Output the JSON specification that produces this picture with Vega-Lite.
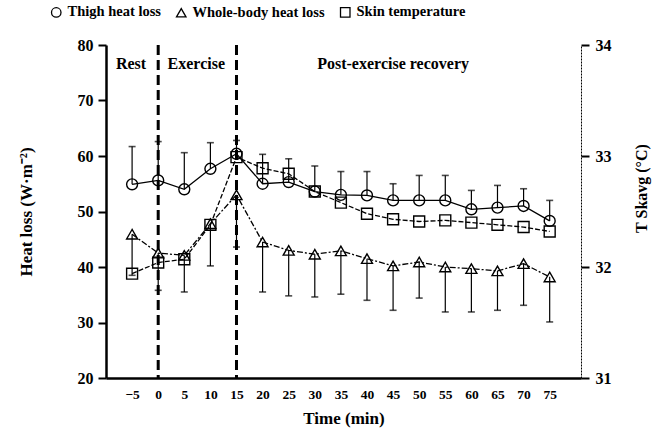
{
  "$schema": "https://vega.github.io/schema/vega-lite/v6.json",
  "width": 475,
  "height": 333,
  "autosize": {"type": "none"},
  "padding": {"left": 106, "top": 45, "right": 89, "bottom": 62},
  "background": "white",
  "config": {
    "font": "Liberation Serif",
    "view": {"stroke": null},
    "axis": {"grid": false, "labelFont": "Liberation Serif", "labelFontWeight": "bold", "labelColor": "black", "titleFont": "Liberation Serif", "titleFontWeight": "bold", "titleColor": "black", "domainColor": "black", "tickColor": "black"},
    "axisX": {"labelOverlap": false, "labelBound": false, "labelFlush": false},
    "legend": {"orient": "none", "direction": "horizontal", "legendX": -57, "legendY": -40, "padding": 0}
  },
  "datasets": {
    "hl": [
      {"t": -5, "series": "Thigh heat loss", "value": 54.9, "err": 61.7},
      {"t": 0, "series": "Thigh heat loss", "value": 55.6, "err": 62.6},
      {"t": 5, "series": "Thigh heat loss", "value": 54.0, "err": 60.6},
      {"t": 10, "series": "Thigh heat loss", "value": 57.7, "err": 62.4},
      {"t": 15, "series": "Thigh heat loss", "value": 60.4, "err": 62.8},
      {"t": 20, "series": "Thigh heat loss", "value": 55.0, "err": 60.3},
      {"t": 25, "series": "Thigh heat loss", "value": 55.3, "err": 59.5},
      {"t": 30, "series": "Thigh heat loss", "value": 53.6, "err": 58.2},
      {"t": 35, "series": "Thigh heat loss", "value": 53.0, "err": 57.2},
      {"t": 40, "series": "Thigh heat loss", "value": 52.9, "err": 57.2},
      {"t": 45, "series": "Thigh heat loss", "value": 52.0, "err": 55.0},
      {"t": 50, "series": "Thigh heat loss", "value": 52.0, "err": 56.5},
      {"t": 55, "series": "Thigh heat loss", "value": 52.0, "err": 56.5},
      {"t": 60, "series": "Thigh heat loss", "value": 50.4, "err": 53.8},
      {"t": 65, "series": "Thigh heat loss", "value": 50.7, "err": 54.7},
      {"t": 70, "series": "Thigh heat loss", "value": 51.0, "err": 54.1},
      {"t": 75, "series": "Thigh heat loss", "value": 48.3, "err": 52.0},
      {"t": -5, "series": "Whole-body heat loss", "value": 45.9, "err": 38.5},
      {"t": 0, "series": "Whole-body heat loss", "value": 42.5, "err": 35.8},
      {"t": 5, "series": "Whole-body heat loss", "value": 42.1, "err": 35.5},
      {"t": 10, "series": "Whole-body heat loss", "value": 47.8, "err": 40.2},
      {"t": 15, "series": "Whole-body heat loss", "value": 53.0, "err": 43.6},
      {"t": 20, "series": "Whole-body heat loss", "value": 44.5, "err": 35.5},
      {"t": 25, "series": "Whole-body heat loss", "value": 43.0, "err": 34.8},
      {"t": 30, "series": "Whole-body heat loss", "value": 42.3, "err": 34.6},
      {"t": 35, "series": "Whole-body heat loss", "value": 42.9, "err": 35.1},
      {"t": 40, "series": "Whole-body heat loss", "value": 41.5, "err": 34.0},
      {"t": 45, "series": "Whole-body heat loss", "value": 40.2, "err": 32.2},
      {"t": 50, "series": "Whole-body heat loss", "value": 40.9, "err": 34.4},
      {"t": 55, "series": "Whole-body heat loss", "value": 40.0, "err": 31.9},
      {"t": 60, "series": "Whole-body heat loss", "value": 39.7, "err": 31.9},
      {"t": 65, "series": "Whole-body heat loss", "value": 39.3, "err": 32.2},
      {"t": 70, "series": "Whole-body heat loss", "value": 40.6, "err": 33.1},
      {"t": 75, "series": "Whole-body heat loss", "value": 38.2, "err": 30.1}
    ],
    "skin": [
      {"t": -5, "series": "Skin temperature", "value": 31.94},
      {"t": 0, "series": "Skin temperature", "value": 32.04},
      {"t": 5, "series": "Skin temperature", "value": 32.07},
      {"t": 10, "series": "Skin temperature", "value": 32.38},
      {"t": 15, "series": "Skin temperature", "value": 32.99},
      {"t": 20, "series": "Skin temperature", "value": 32.89},
      {"t": 25, "series": "Skin temperature", "value": 32.84},
      {"t": 30, "series": "Skin temperature", "value": 32.68},
      {"t": 35, "series": "Skin temperature", "value": 32.58},
      {"t": 40, "series": "Skin temperature", "value": 32.48},
      {"t": 45, "series": "Skin temperature", "value": 32.43},
      {"t": 50, "series": "Skin temperature", "value": 32.41},
      {"t": 55, "series": "Skin temperature", "value": 32.42},
      {"t": 60, "series": "Skin temperature", "value": 32.40},
      {"t": 65, "series": "Skin temperature", "value": 32.38},
      {"t": 70, "series": "Skin temperature", "value": 32.36},
      {"t": 75, "series": "Skin temperature", "value": 32.32}
    ],
    "phase": [{"t": 0}, {"t": 15}],
    "labels": [
      {"t": -5.2, "value": 76.6, "label": "Rest"},
      {"t": 7.3, "value": 76.6, "label": "Exercise"},
      {"t": 45, "value": 76.6, "label": "Post-exercise recovery"}
    ]
  },
  "layer": [
    {
      "layer": [
        {
          "data": {"name": "phase"},
          "mark": {"type": "rule", "color": "black", "strokeWidth": 3, "strokeDash": [10, 5]},
          "encoding": {
            "x": {"field": "t", "type": "quantitative", "scale": {"domain": [-10, 81], "nice": false, "zero": false}, "title": "Time (min)", "axis": {"values": [-5, 0, 5, 10, 15, 20, 25, 30, 35, 40, 45, 50, 55, 60, 65, 70, 75], "tickCount": 40, "ticks": false, "domainWidth": 2.5, "labelFontSize": 13.5, "labelPadding": 9, "labelFlush": false, "labelOverlap": false, "labelBound": false, "titleFontSize": 17, "titlePadding": 10}}
          }
        },
        {
          "data": {"name": "hl"},
          "transform": [{"filter": "datum.series === 'Thigh heat loss'"}],
          "mark": {"type": "line", "color": "black", "strokeWidth": 1.3},
          "encoding": {
            "x": {"field": "t", "type": "quantitative", "title": "Time (min)"},
            "y": {"field": "value", "type": "quantitative", "scale": {"domain": [20, 80], "nice": false, "zero": false}, "title": "Heat loss (W·m⁻²)", "axis": {"values": [20, 30, 40, 50, 60, 70, 80], "tickCount": 20, "domainWidth": 2.5, "tickWidth": 2, "tickSize": 8, "labelFontSize": 16, "labelPadding": 5, "titleFontSize": 17, "titlePadding": 42}}
          }
        },
        {
          "data": {"name": "hl"},
          "transform": [{"filter": "datum.series === 'Whole-body heat loss'"}],
          "mark": {"type": "line", "color": "black", "strokeWidth": 1.3, "strokeDash": [6, 2, 2, 2]},
          "encoding": {
            "x": {"field": "t", "type": "quantitative", "title": "Time (min)"},
            "y": {"field": "value", "type": "quantitative", "title": "Heat loss (W·m⁻²)"}
          }
        },
        {
          "data": {"name": "hl"},
          "mark": {"type": "rule", "color": "black", "strokeWidth": 1.2},
          "encoding": {
            "x": {"field": "t", "type": "quantitative", "title": "Time (min)"},
            "y": {"field": "value", "type": "quantitative", "title": "Heat loss (W·m⁻²)"},
            "y2": {"field": "err"}
          }
        },
        {
          "data": {"name": "hl"},
          "mark": {"type": "tick", "color": "black", "orient": "horizontal", "size": 7, "thickness": 1.6},
          "encoding": {
            "x": {"field": "t", "type": "quantitative", "title": "Time (min)"},
            "y": {"field": "err", "type": "quantitative", "title": "Heat loss (W·m⁻²)"}
          }
        },
        {
          "data": {"name": "hl"},
          "mark": {"type": "point", "filled": false, "stroke": "black", "strokeWidth": 1.4, "size": 120, "opacity": 1},
          "encoding": {
            "x": {"field": "t", "type": "quantitative", "title": "Time (min)"},
            "y": {"field": "value", "type": "quantitative", "title": "Heat loss (W·m⁻²)"},
            "shape": {"field": "series", "type": "nominal", "scale": {"domain": ["Thigh heat loss", "Whole-body heat loss", "Skin temperature"], "range": ["circle", "triangle-up", "square"]}, "legend": {"orient": "none", "direction": "horizontal", "legendX": -57, "legendY": -40, "title": null, "labelFont": "Liberation Serif", "labelFontSize": 14.5, "labelFontWeight": "bold", "labelColor": "black", "symbolStrokeColor": "black", "symbolFillColor": "transparent", "symbolSize": 90, "symbolStrokeWidth": 1.3, "columnPadding": 12, "labelOffset": 4}}
          }
        },
        {
          "data": {"name": "labels"},
          "mark": {"type": "text", "font": "Liberation Serif", "fontWeight": "bold", "fontSize": 16, "align": "center", "baseline": "middle", "color": "black"},
          "encoding": {
            "x": {"field": "t", "type": "quantitative", "title": "Time (min)"},
            "y": {"field": "value", "type": "quantitative", "title": "Heat loss (W·m⁻²)"},
            "text": {"field": "label"}
          }
        }
      ]
    },
    {
      "data": {"name": "skin"},
      "layer": [
        {
          "mark": {"type": "line", "color": "black", "strokeWidth": 1.3, "strokeDash": [5, 2]},
          "encoding": {
            "x": {"field": "t", "type": "quantitative", "title": "Time (min)"},
            "y": {"field": "value", "type": "quantitative", "scale": {"domain": [31, 34], "nice": false, "zero": false}, "title": "T Skavg (°C)", "axis": {"orient": "right", "values": [31, 32, 33, 34], "tickCount": 10, "format": "d", "domainWidth": 1, "domainDash": [2, 1], "tickSize": 8, "tickWidth": 2, "labelFontSize": 16, "labelPadding": 6, "titleFontSize": 16, "titleAngle": 270, "titleX": 60, "titleY": 143, "titleBaseline": "middle", "titleAlign": "center"}}
          }
        },
        {
          "mark": {"type": "point", "filled": false, "stroke": "black", "strokeWidth": 1.4, "size": 120, "opacity": 1},
          "encoding": {
            "x": {"field": "t", "type": "quantitative", "title": "Time (min)"},
            "y": {"field": "value", "type": "quantitative", "title": "T Skavg (°C)"},
            "shape": {"field": "series", "type": "nominal", "scale": {"domain": ["Thigh heat loss", "Whole-body heat loss", "Skin temperature"], "range": ["circle", "triangle-up", "square"]}, "legend": null}
          }
        }
      ]
    }
  ],
  "resolve": {"scale": {"y": "independent"}}
}
